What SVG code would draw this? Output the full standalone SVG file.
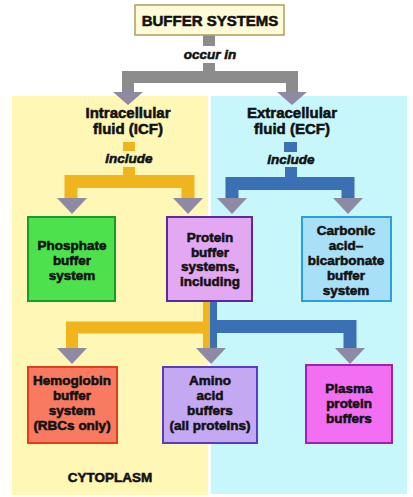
<svg xmlns="http://www.w3.org/2000/svg" width="413" height="497" viewBox="0 0 413 497">
<style>
  text { font-family: "Liberation Sans", Arial, sans-serif; font-weight: bold; fill: #111; text-anchor: middle; stroke: #111; stroke-width: 0.55; }
  .lbl { font-size: 13.5px; }
  .hd { font-size: 15px; }
  .it { font-style: italic; font-size: 13.5px; }
  .box { stroke-width: 2; }
  .gray { fill: none; stroke: #8c8c8c; }
  .org { fill: none; stroke: #f0b41e; }
  .blu { fill: none; stroke: #3b70b4; }
  .head { fill: #8e8aa4; }
</style>
<rect width="413" height="497" fill="#ffffff"/>
<g id="panel-icf">
  <rect x="12" y="96" width="196" height="399" fill="#fff7b6"/>
  <text class="hd" x="128" y="118">Intracellular</text>
  <text class="hd" x="128" y="134">fluid (ICF)</text>
  <text class="lbl" x="110" y="482">CYTOPLASM</text>
</g>
<g id="panel-ecf">
  <rect x="211" y="96" width="196" height="398" fill="#c8f7fb"/>
  <text class="hd" x="292" y="118">Extracellular</text>
  <text class="hd" x="292" y="134">fluid (ECF)</text>
</g>
<g id="connectors">
  <path class="gray" stroke-width="12" d="M209 35V46"/>
  <text class="it" x="210" y="59">occur in</text>
  <path class="gray" stroke-width="12" d="M209 63V77"/>
  <path class="gray" stroke-width="12" d="M128 92V77H292V92"/>
  <polygon class="head" points="113,92 143,92 128,105"/>
  <polygon class="head" points="277,92 307,92 292,105"/>

  <rect x="123" y="142" width="12" height="9" fill="#f0b41e"/>
  <text class="it" x="129" y="163">include</text>
  <path class="org" stroke-width="12" d="M129 167V181"/>
  <path class="org" stroke-width="13" d="M71 198V181.5H188V198"/>
  <polygon class="head" points="57,198 87,198 72,214"/>
  <polygon class="head" points="173,198 203,198 188,214"/>

  <rect x="284" y="142" width="13" height="10" fill="#3b70b4"/>
  <text class="it" x="291" y="164">include</text>
  <path class="blu" stroke-width="12" d="M291 167V183"/>
  <path class="blu" stroke-width="13" d="M232 198V183.5H348V198"/>
  <polygon class="head" points="217,198 247,198 232,214"/>
  <polygon class="head" points="333,198 363,198 348,214"/>

  <path class="org" stroke-width="12" d="M72 348V327.5H207"/>
  <path class="org" stroke-width="7" d="M206.5 301V348"/>
  <path class="blu" stroke-width="13" d="M210 326.5H350V348"/>
  <path class="blu" stroke-width="7" d="M213.5 301V348"/>
  <polygon class="head" points="57,348 87,348 72,364"/>
  <polygon class="head" points="196,348 226,348 211,364"/>
  <polygon class="head" points="335,348 365,348 350,364"/>
</g>
<g id="buffer-systems">
  <rect x="135" y="5" width="149" height="30" fill="#fffbd8" stroke="#a8a060" stroke-width="1.5"/>
  <text x="210" y="26" style="font-size:15px">BUFFER SYSTEMS</text>
</g>
<g id="phosphate">
  <rect class="box" x="28" y="217" width="87" height="84" fill="#4de24d" stroke="#1e9a2a"/>
  <text class="lbl" x="72" y="250">Phosphate</text>
  <text class="lbl" x="72" y="265">buffer</text>
  <text class="lbl" x="72" y="280">system</text>
</g>
<g id="protein">
  <rect class="box" x="167" y="217" width="85" height="84" fill="#e2a8f2" stroke="#5a2a9a"/>
  <text class="lbl" x="210" y="242">Protein</text>
  <text class="lbl" x="210" y="257">buffer</text>
  <text class="lbl" x="210" y="271">systems,</text>
  <text class="lbl" x="210" y="286">including</text>
</g>
<g id="carbonic">
  <rect class="box" x="302" y="217" width="89" height="84" fill="#a8e0f8" stroke="#2a9ee0"/>
  <text class="lbl" x="346" y="235">Carbonic</text>
  <text class="lbl" x="346" y="250">acid–</text>
  <text class="lbl" x="346" y="265">bicarbonate</text>
  <text class="lbl" x="346" y="280">buffer</text>
  <text class="lbl" x="346" y="295">system</text>
</g>
<g id="hemoglobin">
  <rect class="box" x="28" y="367" width="89" height="76" fill="#f87a60" stroke="#e43c1c"/>
  <text class="lbl" x="72" y="385">Hemoglobin</text>
  <text class="lbl" x="72" y="400">buffer</text>
  <text class="lbl" x="72" y="415">system</text>
  <text class="lbl" x="72" y="430">(RBCs only)</text>
</g>
<g id="amino">
  <rect class="box" x="163" y="367" width="94" height="76" fill="#c4a8f2" stroke="#5a3cc0"/>
  <text class="lbl" x="210" y="385">Amino</text>
  <text class="lbl" x="210" y="400">acid</text>
  <text class="lbl" x="210" y="415">buffers</text>
  <text class="lbl" x="210" y="430">(all proteins)</text>
</g>
<g id="plasma">
  <rect class="box" x="306" y="365" width="86" height="78" fill="#f26ef2" stroke="#a020b0"/>
  <text class="lbl" x="349" y="393">Plasma</text>
  <text class="lbl" x="349" y="408">protein</text>
  <text class="lbl" x="349" y="423">buffers</text>
</g>
</svg>
